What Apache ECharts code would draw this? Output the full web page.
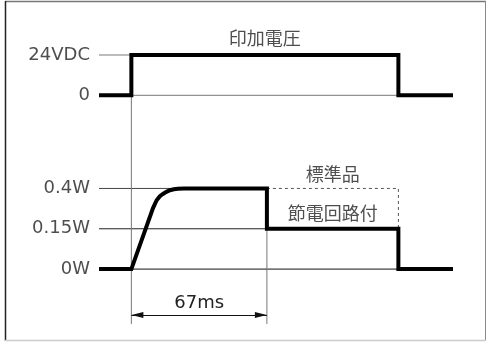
<!DOCTYPE html>
<html><head><meta charset="utf-8">
<script src="https://cdn.jsdelivr.net/npm/echarts@6/dist/echarts.min.js"></script>
<style>html,body{margin:0;padding:0;background:#fff}#c{width:486px;height:342px}</style>
</head><body><div id="c"></div>
<script>
// ---- data ----
const voltageTicks = [0, 24];
const voltageTickLabels = ['0', '24VDC'];
const powerTicks = [0, 0.15, 0.4];
const powerTickLabels = ['0W', '0.15W', '0.4W'];

const voltageT = [-16, 0, 0, 132, 132, 159];
const voltageV = [0, 0, 24, 24, 0, 0];

const powerT = [-16, 0, 10.7, 12.5, 14.1, 15.6, 17.3, 19.1, 21, 23, 26, 67, 67, 132, 132, 159];
const powerW = [0, 0, 0.278, 0.327, 0.352, 0.366, 0.379, 0.389, 0.395, 0.398, 0.4, 0.4, 0.15, 0.15, 0, 0];

const standardT = [67, 132, 132];
const standardW = [0.4, 0.4, 0.15];

const refStartT = -16, refEndT = 132, holdEndT = 67;
const delayMs = 67;
const voltageTitle = '印加電圧';
const standardTitle = '標準品';
const savingTitle = '節電回路付';
const delayLabel = '67ms';

// ---- layout mapping (value -> vertical band level) ----
const V_BASE = 4.31;
const ARROW_LEVEL = -1.14, EXT_LEVEL = -1.36;
function vLevel(v) { return V_BASE + v / 24; }
function pLevel(w) {
  const lv = [0, 1, 2];
  for (let i = 1; i < powerTicks.length; i++) {
    if (w <= powerTicks[i]) {
      const a = powerTicks[i - 1], b = powerTicks[i];
      return lv[i - 1] + (w - a) / (b - a);
    }
  }
  return 2;
}
const zip = (xs, ys, f) => xs.map((x, i) => [x, f(ys[i])]);

const FONT_CJK = '"Noto Sans CJK JP", sans-serif';
const FONT_LAT = '"DejaVu Sans", sans-serif';
const TXT = '#222';

const series = [];
function thin(data, color, type) {
  series.push({ type: 'line', data, showSymbol: false, symbol: 'none', silent: true, z: 1,
    lineStyle: { color, width: 1, type: type || 'solid' } });
}
// reference level lines
voltageTicks.forEach(v => thin([[refStartT, vLevel(v)], [refEndT, vLevel(v)]], '#777'));
thin([[refStartT, pLevel(0.4)], [holdEndT, pLevel(0.4)]], '#444');
thin([[refStartT, pLevel(0.15)], [refEndT, pLevel(0.15)]], '#222');
thin([[refStartT, pLevel(0)], [refEndT, pLevel(0)]], '#111');
// standard product (dashed)
thin(zip(standardT, standardW, pLevel), '#555', [3, 3]);
// vertical extension lines
thin([[0, vLevel(24)], [0, EXT_LEVEL]], '#777');
thin([[delayMs, pLevel(0.4)], [delayMs, EXT_LEVEL]], '#777');

// thick signals
series.push({ type: 'line', data: zip(voltageT, voltageV, vLevel), showSymbol: false, symbol: 'none', z: 5,
  lineStyle: { color: '#000', width: 4, join: 'miter', cap: 'butt' } });
series.push({ type: 'line', data: zip(powerT, powerW, pLevel), showSymbol: false, symbol: 'none', z: 5,
  lineStyle: { color: '#000', width: 4, join: 'miter', cap: 'butt' } });

// tick labels
const tickPts = voltageTicks.map((v, i) => ({ value: [refStartT, vLevel(v)], name: voltageTickLabels[i] }))
  .concat(powerTicks.map((w, i) => ({ value: [refStartT, pLevel(w)], name: powerTickLabels[i] })));
series.push({ type: 'scatter', data: tickPts, symbolSize: 0, silent: true, z: 6, clip: false,
  label: { show: true, position: 'left', distance: 9, formatter: p => p.name,
    fontFamily: FONT_LAT, fontSize: 18, color: TXT } });

// titles
function title(x, y, text, dist) {
  series.push({ type: 'scatter', data: [{ value: [x, y], name: text }], symbolSize: 0, silent: true, z: 6, clip: false,
    label: { show: true, position: 'top', distance: dist, formatter: p => p.name,
      fontFamily: FONT_CJK, fontSize: 18, color: TXT } });
}
title((0 + refEndT) / 2, vLevel(24), voltageTitle, 8);
title((holdEndT + refEndT) / 2, pLevel(0.4), standardTitle, 5);
title((holdEndT + refEndT) / 2, pLevel(0.15), savingTitle, 7);

// dimension arrow
series.push({ type: 'line', data: [], silent: true,
  markLine: { silent: true, symbol: ['triangle', 'triangle'], symbolSize: [6, 12],
    symbolOffset: [[0, 6], [0, 6]], animation: false,
    lineStyle: { color: '#111', width: 1, type: 'solid' },
    label: { show: true, position: 'middle', distance: 3, formatter: delayLabel,
      fontFamily: FONT_LAT, fontSize: 18, color: TXT },
    data: [[{ coord: [0, ARROW_LEVEL] }, { coord: [delayMs, ARROW_LEVEL] }]] } });

const chart = echarts.init(document.getElementById('c'), null, { renderer: 'canvas' });
chart.setOption({
  animation: false,
  backgroundColor: '#fff',
  grid: { left: 99, right: 33, top: 47.33, bottom: 8.4 },
  xAxis: { type: 'value', min: -16, max: 159, show: false },
  yAxis: { type: 'value', min: -1.6, max: 5.5, show: false },
  graphic: [
    { type: 'line', shape: { x1: 5, y1: 1.5, x2: 486, y2: 1.5 }, style: { stroke: '#777', lineWidth: 1.5 } },
    { type: 'line', shape: { x1: 5.5, y1: 1, x2: 5.5, y2: 341 }, style: { stroke: '#222', lineWidth: 1.5 } },
    { type: 'line', shape: { x1: 485.5, y1: 1, x2: 485.5, y2: 341 }, style: { stroke: '#888', lineWidth: 1 } },
    { type: 'line', shape: { x1: 5, y1: 340.5, x2: 486, y2: 340.5 }, style: { stroke: '#ccc', lineWidth: 1.5 } }
  ],
  series
});
</script></body></html>
